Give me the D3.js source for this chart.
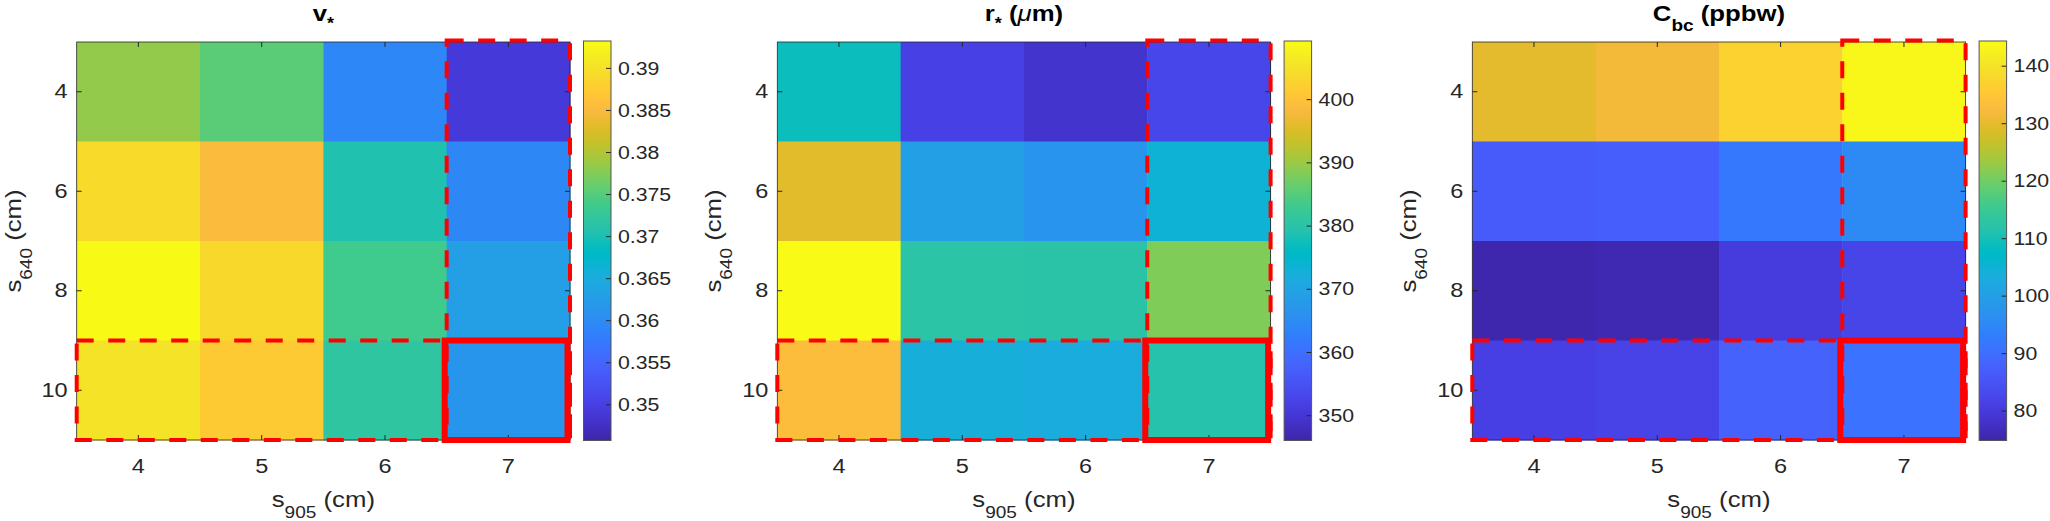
<!DOCTYPE html>
<html><head><meta charset="utf-8">
<script src="https://cdn.jsdelivr.net/npm/d3@7"></script>
<style>
body{margin:0;background:#fff}
svg{display:block}
text{font-family:"Liberation Sans",Arial,Helvetica,sans-serif}
</style>
</head><body>
<svg id="chart" width="2050" height="521"></svg>
<script>
// ---------------- data ----------------
const xCats = [4, 5, 6, 7];          // s905 (cm)
const yCats = [4, 6, 8, 10];         // s640 (cm)
// rows follow yCats, columns follow xCats
const vStar = [
  [0.3783, 0.3753, 0.3593, 0.3491],
  [0.3892, 0.3853, 0.3704, 0.3594],
  [0.3930, 0.3891, 0.3736, 0.3628],
  [0.3902, 0.3872, 0.3719, 0.3613]
];
const rStar = [
  [377.1, 352.0, 349.3, 352.8],
  [395.7, 369.1, 366.6, 373.4],
  [409.0, 380.1, 380.0, 388.1],
  [398.9, 372.3, 371.7, 379.4]
];
const cBc = [
  [129.7, 131.4, 137.0, 143.5],
  [86.5, 87.0, 91.9, 95.4],
  [75.1, 75.7, 80.1, 82.0],
  [81.0, 81.7, 87.8, 90.8]
];
const vTicks = [0.35, 0.355, 0.36, 0.365, 0.37, 0.375, 0.38, 0.385, 0.39];
const rTicks = [350, 360, 370, 380, 390, 400];
const cTicks = [80, 90, 100, 110, 120, 130, 140];
const vClim = [0.3457, 0.3932];
const rClim = [346.0, 409.2];
const cClim = [74.8, 144.3];
const highlightX = 7;
const highlightY = 10;

// ---------------- parula colormap ----------------
const parulaTable = [
[0.2422,0.1504,0.6603],[0.2504,0.1650,0.7076],[0.2578,0.1818,0.7511],[0.2647,0.1978,0.7952],
[0.2706,0.2147,0.8364],[0.2751,0.2342,0.8710],[0.2783,0.2559,0.8991],[0.2803,0.2782,0.9221],
[0.2813,0.3006,0.9414],[0.2810,0.3228,0.9579],[0.2795,0.3447,0.9717],[0.2760,0.3667,0.9829],
[0.2699,0.3892,0.9906],[0.2602,0.4123,0.9952],[0.2440,0.4358,0.9988],[0.2206,0.4603,0.9973],
[0.1963,0.4847,0.9892],[0.1834,0.5074,0.9798],[0.1786,0.5289,0.9682],[0.1764,0.5499,0.9520],
[0.1687,0.5703,0.9359],[0.1540,0.5902,0.9218],[0.1460,0.6091,0.9079],[0.1380,0.6276,0.8973],
[0.1248,0.6459,0.8883],[0.1113,0.6635,0.8763],[0.0952,0.6798,0.8598],[0.0689,0.6948,0.8394],
[0.0297,0.7082,0.8163],[0.0036,0.7203,0.7917],[0.0067,0.7312,0.7660],[0.0433,0.7411,0.7394],
[0.0964,0.7500,0.7120],[0.1408,0.7584,0.6842],[0.1717,0.7670,0.6554],[0.1938,0.7758,0.6251],
[0.2161,0.7843,0.5923],[0.2470,0.7918,0.5567],[0.2906,0.7973,0.5188],[0.3406,0.8008,0.4789],
[0.3909,0.8029,0.4354],[0.4456,0.8024,0.3909],[0.5044,0.7993,0.3480],[0.5616,0.7942,0.3045],
[0.6174,0.7876,0.2612],[0.6720,0.7793,0.2227],[0.7242,0.7698,0.1910],[0.7738,0.7598,0.1646],
[0.8203,0.7498,0.1535],[0.8634,0.7406,0.1596],[0.9035,0.7330,0.1774],[0.9393,0.7288,0.2100],
[0.9728,0.7298,0.2394],[0.9956,0.7434,0.2371],[0.9970,0.7659,0.2199],[0.9952,0.7893,0.2028],
[0.9892,0.8136,0.1885],[0.9786,0.8386,0.1766],[0.9676,0.8639,0.1643],[0.9610,0.8890,0.1537],
[0.9597,0.9135,0.1423],[0.9628,0.9373,0.1265],[0.9691,0.9606,0.1064],[0.9769,0.9839,0.0805]
];
function parula(t){
  t = Math.max(0, Math.min(1, t));
  const p = t * (parulaTable.length - 1);
  const i = Math.min(Math.floor(p), parulaTable.length - 2);
  const f = p - i;
  const a = parulaTable[i], b = parulaTable[i+1];
  const c = a.map((v,k)=> Math.round(255*(v + (b[k]-v)*f)));
  return `rgb(${c[0]},${c[1]},${c[2]})`;
}

// ---------------- layout ----------------
const svg = d3.select("#chart");
const TOP = 42, H = 398, W = 493.3;
const AX = "#262626";
const TICK_FS = 21, CB_FS = 19, LABEL_FS = 23, TITLE_FS = 23;
const SX = 1.12;   // reference text is slightly wider than tall

const panels = [
  {left: 76.7,   data: vStar, clim: vClim, ticks: vTicks, title: "v"},
  {left: 777.3,  data: rStar, clim: rClim, ticks: rTicks, title: "r"},
  {left: 1472.3, data: cBc,   clim: cClim, ticks: cTicks, title: "C"}
];

const defs = svg.append("defs");

function stretchTickText(sel, fs){
  sel.selectAll(".tick text").each(function(){
    const t = d3.select(this);
    const x = +t.attr("x") || 0;
    t.attr("x", x / SX).attr("transform", `scale(${SX},1)`)
     .attr("fill", AX).style("font-size", fs + "px");
  });
}

panels.forEach((p, pi) => {
  const g = svg.append("g");
  const x = d3.scaleBand().domain(xCats).range([p.left, p.left + W]);
  const y = d3.scaleBand().domain(yCats).range([TOP, TOP + H]);
  const col = d3.scaleLinear().domain(p.clim).range([0, 1]).clamp(true);

  // cells
  const cells = [];
  yCats.forEach((yv, ri) => xCats.forEach((xv, ci) => cells.push({xv, yv, v: p.data[ri][ci]})));
  g.selectAll("rect.cell").data(cells).join("rect")
    .attr("class","cell")
    .attr("x", d => x(d.xv)).attr("y", d => y(d.yv))
    .attr("width", x.bandwidth() + 0.5).attr("height", y.bandwidth() + 0.5)
    .attr("fill", d => parula(col(d.v)));

  // axes (ticks inside, on all four sides)
  const styleAxis = sel => {
    sel.select(".domain").remove();
    sel.selectAll(".tick line").attr("stroke", AX).attr("stroke-width", 1);
    stretchTickText(sel, TICK_FS);
  };
  g.append("g").attr("transform", `translate(0,${TOP + H})`)
    .call(d3.axisBottom(x).tickSizeInner(-5).tickSizeOuter(0).tickPadding(18)).call(styleAxis);
  g.append("g").attr("transform", `translate(0,${TOP})`)
    .call(d3.axisTop(x).tickSizeInner(-5).tickSizeOuter(0).tickFormat("")).call(styleAxis);
  g.append("g").attr("transform", `translate(${p.left},0)`)
    .call(d3.axisLeft(y).tickSizeInner(-5).tickSizeOuter(0).tickPadding(9)).call(styleAxis);
  g.append("g").attr("transform", `translate(${p.left + W},0)`)
    .call(d3.axisRight(y).tickSizeInner(-5).tickSizeOuter(0).tickFormat("")).call(styleAxis);

  g.append("rect").attr("x", p.left).attr("y", TOP).attr("width", W).attr("height", H)
    .attr("fill","none").attr("stroke", AX).attr("stroke-width", 0.8);

  // red highlight rectangles
  const red = "#ff0000";
  const dashed = (x0, y0, x1, y1) => g.append("path")
    .attr("d", `M${x0},${y0}H${x1}V${y1}H${x0}Z`)
    .attr("fill","none").attr("stroke", red).attr("stroke-width", 4)
    .attr("stroke-dasharray", "17 14.5");
  const cx0 = x(highlightX), cx1 = x(highlightX) + x.bandwidth();
  const ry0 = y(highlightY), ry1 = y(highlightY) + y.bandwidth();
  dashed(cx0, TOP - 1.5, cx1, TOP + H);
  dashed(p.left, ry0, p.left + W, ry1);
  g.append("rect").attr("x", cx0 - 2).attr("y", ry0).attr("width", x.bandwidth() - 0.5).attr("height", y.bandwidth())
    .attr("fill","none").attr("stroke", red).attr("stroke-width", 6);

  // colorbar
  const cbX = p.left + W + 13.5, cbW = 27.5, cbTop = 41, cbBot = 440.5;
  const gid = "grad" + pi;
  const grad = defs.append("linearGradient").attr("id", gid)
    .attr("x1","0").attr("y1","1").attr("x2","0").attr("y2","0");
  d3.range(0, 257).forEach(k => grad.append("stop")
    .attr("offset", k/256).attr("stop-color", parula(k/256)));
  g.append("rect").attr("x", cbX).attr("y", cbTop).attr("width", cbW).attr("height", cbBot - cbTop)
    .attr("fill", `url(#${gid})`);
  const cbScale = d3.scaleLinear().domain(p.clim).range([cbBot, cbTop]);
  g.append("g").attr("transform", `translate(${cbX + cbW},0)`)
    .call(d3.axisRight(cbScale).tickValues(p.ticks).tickFormat(d => String(d))
      .tickSizeInner(-5).tickSizeOuter(0).tickPadding(7))
    .call(sel => {
      sel.select(".domain").remove();
      sel.selectAll(".tick line").attr("stroke", AX).attr("stroke-width", 1);
      stretchTickText(sel, CB_FS);
    });
  g.append("rect").attr("x", cbX).attr("y", cbTop).attr("width", cbW).attr("height", cbBot - cbTop)
    .attr("fill","none").attr("stroke", "#555").attr("stroke-width", 1);

  // title
  const cx = p.left + W / 2;
  const t = g.append("g").attr("transform", `translate(${cx},21) scale(${SX},1)`)
    .append("text").attr("text-anchor","middle")
    .attr("fill","#000").style("font-size", TITLE_FS + "px").style("font-weight","bold");
  if (pi === 0) {
    t.append("tspan").text("v");
    t.append("tspan").attr("dy", 8).style("font-size","16px").text("*");
  } else if (pi === 1) {
    t.append("tspan").text("r");
    t.append("tspan").attr("dy", 8).style("font-size","16px").text("*");
    t.append("tspan").attr("dy", -8).text(" (");
    t.append("tspan").style("font-style","italic").style("font-weight","normal").text("\u03BC");
    t.append("tspan").text("m)");
  } else {
    t.append("tspan").text("C");
    t.append("tspan").attr("dy", 10).style("font-size","17px").text("bc");
    t.append("tspan").attr("dy", -10).text(" (ppbw)");
  }

  // x label
  const xl = g.append("g").attr("transform", `translate(${cx},507) scale(${SX},1)`)
    .append("text").attr("text-anchor","middle")
    .attr("fill", AX).style("font-size", LABEL_FS + "px");
  xl.append("tspan").text("s");
  xl.append("tspan").attr("dy", 11).style("font-size","17px").text("905");
  xl.append("tspan").attr("dy", -11).text(" (cm)");

  // y label (rotated; stretch along the reading direction)
  const yl = g.append("g")
    .attr("transform", `translate(${p.left - 56},${TOP + H/2}) rotate(-90) scale(${SX},1)`)
    .append("text").attr("text-anchor","middle").attr("fill", AX).style("font-size", LABEL_FS + "px");
  yl.append("tspan").text("s");
  yl.append("tspan").attr("dy", 11).style("font-size","17px").text("640");
  yl.append("tspan").attr("dy", -11).text(" (cm)");
});
</script>
</body></html>
